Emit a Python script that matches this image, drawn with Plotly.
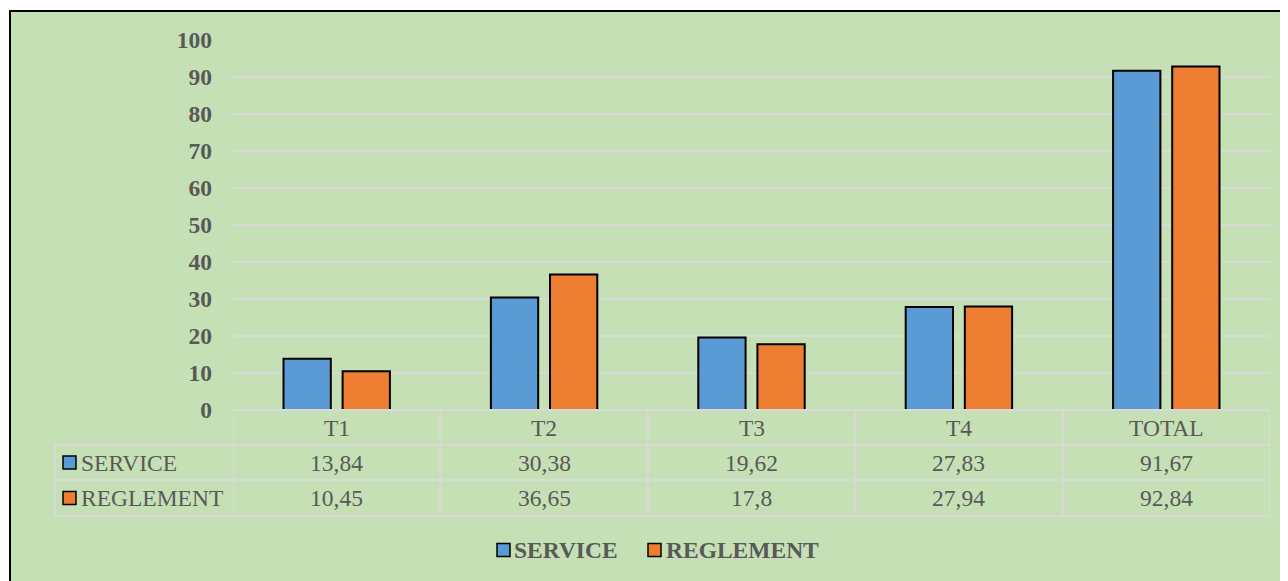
import plotly.graph_objects as go

categories = ["T1", "T2", "T3", "T4", "TOTAL"]
service = [13.84, 30.38, 19.62, 27.83, 91.67]
reglement = [10.45, 36.65, 17.8, 27.94, 92.84]
service_labels = ["13,84", "30,38", "19,62", "27,83", "91,67"]
reglement_labels = ["10,45", "36,65", "17,8", "27,94", "92,84"]
series_names = ["SERVICE", "REGLEMENT"]
y_ticks = list(range(0, 101, 10))

# page body margin offset (the figure div starts 8px in from the window edge)
OX, OY = 8, 8
W, H = 1288 - OX, 581 - OY
L, R, T, B = 233 - OX, 18, 40 - OY, 171
PW, PH = W - L - R, H - T - B
BLUE, ORANGE = "#5B9BD5", "#ED7D31"
GREEN = "#C5E0B4"
GRID = "#D9D9D9"
TXT = "#595959"
FONT = "Liberation Serif, Times New Roman, serif"
FS = 23.5


def px(x):
    # screen pixel -> paper x
    return (x - OX - L) / PW


def py(y):
    # screen pixel -> paper y
    return (T + PH - (y - OY)) / PH


fig = go.Figure()
fig.add_trace(go.Bar(x=categories, y=service, name=series_names[0],
                     marker=dict(color=BLUE, line=dict(color="black", width=2))))
fig.add_trace(go.Bar(x=categories, y=reglement, name=series_names[1],
                     marker=dict(color=ORANGE, line=dict(color="black", width=2))))

shapes = []
# background frame
shapes.append(dict(type="rect", xref="paper", yref="paper", x0=px(10), x1=px(1320),
                   y0=py(11), y1=py(620), fillcolor=GREEN,
                   line=dict(color="black", width=2), layer="below"))

# table lines
rows_y = [410, 445, 480, 516]
line_style = dict(color=GRID, width=2)
shapes.append(dict(type="line", xref="x", yref="paper", x0=-0.5, x1=len(categories) - 0.5,
                   y0=py(rows_y[0]), y1=py(rows_y[0]), line=line_style))
for yy in rows_y[1:]:
    shapes.append(dict(type="line", xref="paper", yref="paper", x0=px(55), x1=1,
                       y0=py(yy), y1=py(yy), line=line_style))
for i in range(len(categories) + 1):
    shapes.append(dict(type="line", xref="x", yref="paper", x0=i - 0.5, x1=i - 0.5,
                       y0=py(rows_y[0]), y1=py(rows_y[-1]), line=line_style))
shapes.append(dict(type="line", xref="paper", yref="paper", x0=px(55), x1=px(55),
                   y0=py(rows_y[1]), y1=py(rows_y[-1]), line=line_style))

annotations = []
row_centers = [(rows_y[i] + rows_y[i + 1]) / 2 for i in range(3)]
for i, c in enumerate(categories):
    annotations.append(dict(x=c, xref="x", y=py(row_centers[0]), yref="paper",
                            text=c, showarrow=False, xanchor="center", yanchor="middle",
                            font=dict(family=FONT, size=FS, color=TXT)))
    annotations.append(dict(x=c, xref="x", y=py(row_centers[1]), yref="paper",
                            text=service_labels[i], showarrow=False, xanchor="center",
                            yanchor="middle", font=dict(family=FONT, size=FS, color=TXT)))
    annotations.append(dict(x=c, xref="x", y=py(row_centers[2]), yref="paper",
                            text=reglement_labels[i], showarrow=False, xanchor="center",
                            yanchor="middle", font=dict(family=FONT, size=FS, color=TXT)))

# row legend keys
for name, col, yc in [(series_names[0], BLUE, row_centers[1]), (series_names[1], ORANGE, row_centers[2])]:
    shapes.append(dict(type="rect", xref="paper", yref="paper", x0=px(63), x1=px(76),
                       y0=py(yc + 6.5), y1=py(yc - 6.5), fillcolor=col,
                       line=dict(color="black", width=1.5)))
    annotations.append(dict(x=px(79), xref="paper", y=py(yc), yref="paper", text=name,
                            showarrow=False, xanchor="left", yanchor="middle",
                            font=dict(family=FONT, size=FS, color=TXT)))

# bottom legend
leg_y = 550
for name, col, x0, tx in [(series_names[0], BLUE, 497, 512), (series_names[1], ORANGE, 648, 664)]:
    shapes.append(dict(type="rect", xref="paper", yref="paper", x0=px(x0), x1=px(x0 + 13),
                       y0=py(leg_y + 6.5), y1=py(leg_y - 6.5), fillcolor=col,
                       line=dict(color="black", width=1.5)))
    annotations.append(dict(x=px(tx), xref="paper", y=py(leg_y), yref="paper",
                            text="<b>%s</b>" % name, showarrow=False, xanchor="left",
                            yanchor="middle", font=dict(family=FONT, size=FS, color=TXT)))

fig.update_layout(
    width=W, height=H,
    margin=dict(l=L, r=R, t=T, b=B, pad=0),
    paper_bgcolor="white",
    plot_bgcolor="rgba(0,0,0,0)",
    showlegend=False,
    barmode="group",
    bargap=0.43,
    bargroupgap=0.2,
    shapes=shapes,
    annotations=annotations,
    xaxis=dict(range=[-0.5, len(categories) - 0.5], showticklabels=False, showgrid=False,
               zeroline=False, showline=False, ticks=""),
    yaxis=dict(range=[0, 100], tickvals=y_ticks, showgrid=True, gridcolor=GRID, gridwidth=2,
               zeroline=False, showline=False, ticks="", ticklabelstandoff=20,
               tickfont=dict(family=FONT, size=FS, color=TXT, weight="bold")),
)

fig.write_html("out.html")
